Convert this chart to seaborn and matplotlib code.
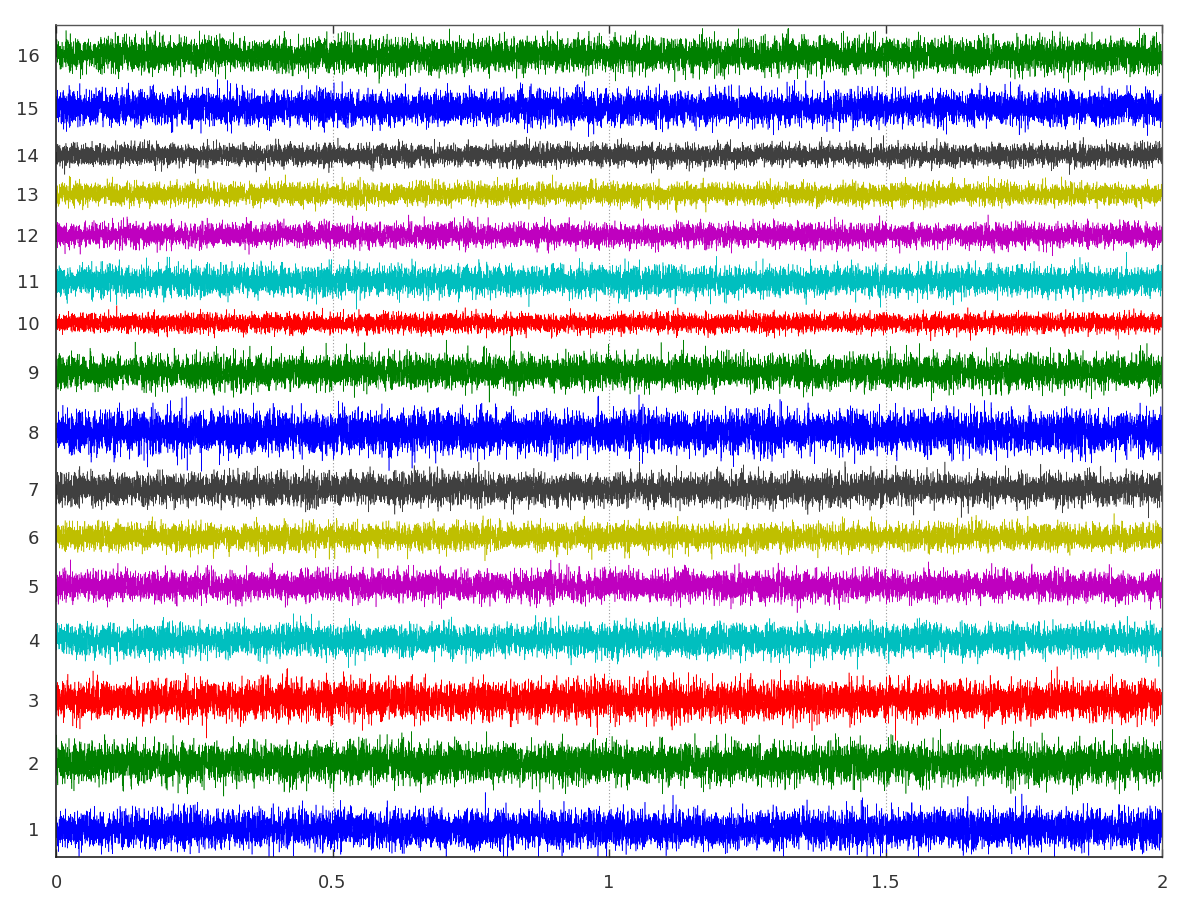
# 16 stacked noise traces (channels 1..16) over 0-2 s
import numpy as np
import pandas as pd
import matplotlib
matplotlib.use("Agg")
import matplotlib.pyplot as plt
import seaborn as sns

# channel labels on the y axis
canais = [str(i) for i in range(1, 17)]
# baseline of each trace (axis units, bottom = 0, top = 832)
offsets = [28, 94, 157, 217, 271, 320, 368, 425, 485, 534, 576, 622, 663, 702, 749, 802]
# spread (std) of each trace, estimated from the band widths
spreads = [9.0, 9.5, 9.0, 7.5, 7.0, 6.2, 7.5, 10.0, 8.0, 4.6, 7.0, 5.6, 5.2, 5.2, 8.0, 8.0]
# colours, repeating b g r c m y k (k drawn dark gray)
cores = ["#0000ff", "#008000", "#ff0000", "#00bfbf", "#bf00bf", "#bfbf00", "#404040",
         "#0000ff", "#008000", "#ff0000", "#00bfbf", "#bf00bf", "#bfbf00", "#404040",
         "#0000ff", "#008000"]
xticks = [0, 0.5, 1, 1.5, 2]
xtick_labels = ["0", "0.5", "1", "1.5", "2"]

# the signal itself is noise and can't be read sample by sample from the image,
# so a seeded generator fills it, scaled with the spreads above
n_amostras = 12000
t = np.linspace(0, 2, n_amostras)
rng = np.random.default_rng(7)

sns.set_style("white")
fig = plt.figure(figsize=(12, 9), dpi=100)
ax = fig.add_axes([56 / 1200, 43 / 900, 1106 / 1200, 832 / 900])

# dotted vertical grid
for xv in [0.5, 1, 1.5]:
    ax.axvline(xv, color="#999999", lw=0.8, ls=(0, (1, 2)), zorder=0)

for i in range(16):
    sinal = offsets[i] + spreads[i] * rng.standard_normal(n_amostras)
    df = pd.DataFrame({"t": t, "v": sinal})
    sns.lineplot(data=df, x="t", y="v", color=cores[i], lw=0.4,
                 estimator=None, sort=False, ax=ax, zorder=2)

ax.set_xlim(0, 2)
ax.set_ylim(0, 832)
ax.set_xticks(xticks)
ax.set_xticklabels(xtick_labels)
ax.set_yticks(offsets)
ax.set_yticklabels(canais)
ax.set_xlabel("")
ax.set_ylabel("")

ax.tick_params(axis="x", direction="in", length=6, width=1, color="#333333",
               top=True, bottom=True, labelsize=13, labelcolor="#333333", pad=12)
ax.tick_params(axis="y", length=0, labelsize=13, labelcolor="#333333", pad=12)

for lado in ["left", "bottom"]:
    ax.spines[lado].set_color("#222222")
    ax.spines[lado].set_linewidth(1.2)
for lado in ["top", "right"]:
    ax.spines[lado].set_color("#555555")
    ax.spines[lado].set_linewidth(1.0)

fig.savefig("out.png", dpi=100)
